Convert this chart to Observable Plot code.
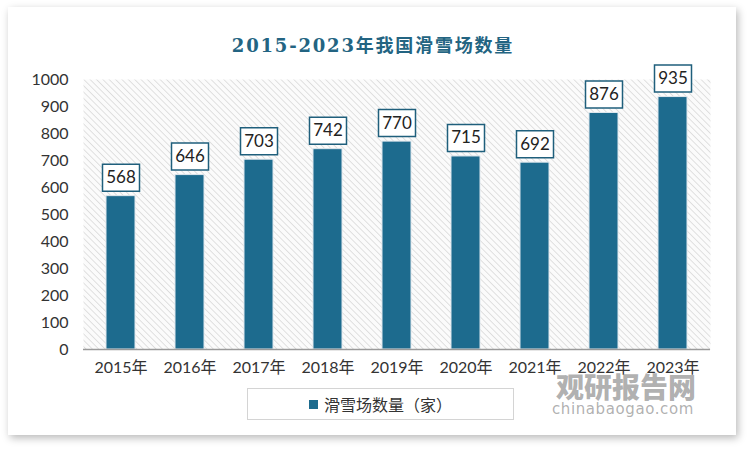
<!DOCTYPE html>
<html><head><meta charset="utf-8">
<script src="https://cdn.jsdelivr.net/npm/d3@7"></script>
<script src="https://cdn.jsdelivr.net/npm/@observablehq/plot@0.6"></script>
<style>
html,body{margin:0;padding:0;background:#fff;}
#wrap{position:relative;width:750px;height:452px;overflow:hidden;background:#fff;}
#card{position:absolute;left:8px;top:7px;width:728px;height:428px;background:#fff;box-shadow:2px 3px 8px rgba(0,0,0,0.28);}
#title{position:absolute;left:0;top:31px;width:746px;text-align:center;font-family:"DejaVu Serif","Noto Sans CJK SC",serif;font-weight:bold;font-size:18px;letter-spacing:1.8px;color:#236482;}
#chart{position:absolute;left:0;top:60px;}
#legend{position:absolute;left:247px;top:388px;width:267px;height:32px;border:1px solid #d4d4d4;box-sizing:border-box;display:flex;align-items:center;justify-content:center;font-family:"Noto Sans CJK SC",sans-serif;font-size:16px;color:#333;}
#legend span.sw{display:inline-block;width:9px;height:9px;margin-right:6px;}
#wm1{position:absolute;left:556px;top:366px;font-family:"Noto Sans CJK SC",sans-serif;font-weight:900;font-size:28px;color:rgba(110,110,110,0.55);}
#wm2{position:absolute;left:552px;top:400px;font-family:"DejaVu Sans",sans-serif;font-size:15px;color:rgba(110,110,110,0.55);letter-spacing:0.6px;}
</style></head>
<body>
<div id="wrap">
<div id="card"></div>
<div id="title"></div>
<div id="chart"></div>
<div id="legend"></div>
<div id="wm1">观研报告网</div>
<div id="wm2">chinabaogao.com</div>
</div>
<script>
const years = ["2015年","2016年","2017年","2018年","2019年","2020年","2021年","2022年","2023年"];
const counts = [568, 646, 703, 742, 770, 715, 692, 876, 935];
const yTicks = [0,100,200,300,400,500,600,700,800,900,1000];
const titleText = "2015-2023年我国滑雪场数量";
const seriesName = "滑雪场数量（家）";
const barColor = "#1d6b8e";
const boxStroke = "#1f5f7c";

const data = years.map((y, i) => ({year: y, value: counts[i]}));

document.getElementById("title").textContent = titleText;
const lg = document.getElementById("legend");
lg.innerHTML = `<span class="sw" style="background:${barColor}"></span><span></span>`;
lg.lastChild.textContent = seriesName;

const boxSymbol = {
  draw(ctx, size) { ctx.rect(-18.5, -13.5, 37, 27); }
};

const chart = Plot.plot({
  width: 750,
  height: 325,
  marginLeft: 83,
  marginRight: 40,
  marginTop: 19,
  marginBottom: 36,
  style: {fontFamily: "Lato, 'Noto Sans CJK SC', sans-serif", fontSize: "16px", color: "#333", background: "transparent", overflow: "visible"},
  x: {domain: years, paddingInner: 0.58, paddingOuter: 0.29, label: null, tickSize: 0, tickPadding: 12},
  y: {domain: [0, 1000], ticks: yTicks, tickFormat: d => String(d), label: null, tickSize: 0, tickPadding: 15},
  marks: [
    Plot.frame({fill: "url(#hatch)", stroke: null}),
    Plot.barY(data, {x: "year", y: "value", fill: barColor, stroke: "#dfe8ee", strokeWidth: 1, style: {filter: "drop-shadow(-4px 1px 3px rgba(0,0,0,0.28))"}}),
    Plot.ruleY([0], {stroke: "#9a9a9a", strokeWidth: 1.5}),
    Plot.dot(data, {x: "year", y: "value", dy: -18.5, symbol: boxSymbol, fill: "white", stroke: boxStroke, strokeWidth: 1.5}),
    Plot.text(data, {x: "year", y: "value", dy: -18.5, text: d => String(d.value), fontSize: 17, fill: "#222"})
  ]
});

const ns = "http://www.w3.org/2000/svg";
const defs = document.createElementNS(ns, "defs");
defs.innerHTML = `<pattern id="hatch" patternUnits="userSpaceOnUse" width="4.5" height="4.5" patternTransform="rotate(-45)">
<rect width="4.5" height="4.5" fill="#fbfbfb"/>
<line x1="0" y1="0" x2="0" y2="4.5" stroke="#d2d2d2" stroke-width="1.3"/>
</pattern>`;
chart.insertBefore(defs, chart.firstChild);
document.getElementById("chart").appendChild(chart);
</script>
</body></html>
